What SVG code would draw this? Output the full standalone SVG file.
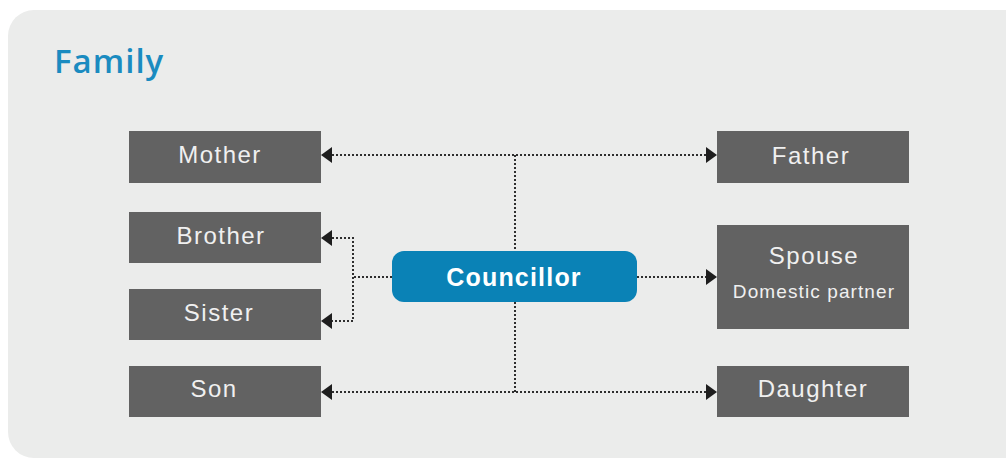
<svg xmlns="http://www.w3.org/2000/svg" width="1006" height="459" viewBox="0 0 1006 459">
<defs>
<style>
.box{fill:#626262}
.t{font-family:"Liberation Sans",Arial,sans-serif;font-size:24px;letter-spacing:1.5px;fill:#f0f0f0;text-anchor:middle}
.s{font-size:19px;letter-spacing:1.1px}
.c{fill:none;stroke:#2e2e2e;stroke-width:2;stroke-dasharray:2 2}
.a{fill:#1e1e1e}
</style>
</defs>
<rect x="0" y="0" width="1006" height="459" fill="#ffffff"/>
<rect x="8" y="10" width="1030" height="448" rx="26" fill="#ebeceb"/>
<text x="54" y="73" font-family="'Open Sans','Noto Sans',sans-serif" font-size="33" font-weight="600" letter-spacing="1" fill="#1a8bc0">Family</text>
<g id="connectors">
<path class="c" d="M332,155 H706"/>
<path class="c" d="M515,155 V251"/>
<path class="c" d="M515,302 V392"/>
<path class="c" d="M332,392 H706"/>
<path class="c" d="M637,277 H706"/>
<path class="c" d="M392,277 H353"/>
<path class="c" d="M332,238 H353 V321 H332"/>
<path class="a" d="M321,238 L332,230 L332,246 Z"/>
<path class="a" d="M321,321 L332,313 L332,329 Z"/>
<path class="a" d="M321,155 L332,147 L332,163 Z"/>
<path class="a" d="M321,392 L332,384 L332,400 Z"/>
<path class="a" d="M717,155 L706,147 L706,163 Z"/>
<path class="a" d="M717,392 L706,384 L706,400 Z"/>
<path class="a" d="M717,277 L706,269 L706,285 Z"/>
</g>
<g id="mother"><rect class="box" x="129" y="131" width="192" height="52"/><text class="t" x="220" y="163">Mother</text></g>
<g id="brother"><rect class="box" x="129" y="212" width="192" height="51"/><text class="t" x="221" y="244">Brother</text></g>
<g id="sister"><rect class="box" x="129" y="289" width="192" height="51"/><text class="t" x="219" y="321">Sister</text></g>
<g id="son"><rect class="box" x="129" y="366" width="192" height="51"/><text class="t" x="214" y="397">Son</text></g>
<g id="father"><rect class="box" x="717" y="131" width="192" height="52"/><text class="t" x="811" y="164">Father</text></g>
<g id="spouse"><rect class="box" x="717" y="225" width="192" height="104"/><text class="t" x="814" y="264">Spouse</text><text class="t s" x="814" y="298">Domestic partner</text></g>
<g id="daughter"><rect class="box" x="717" y="366" width="192" height="51"/><text class="t" x="813" y="397">Daughter</text></g>
<g id="councillor"><rect x="392" y="251" width="245" height="51" rx="12" fill="#0a82b6"/><text x="514" y="286" font-family="'Liberation Sans',Arial,sans-serif" font-size="25" font-weight="bold" letter-spacing="1.2" fill="#ffffff" text-anchor="middle">Councillor</text></g>
</svg>
